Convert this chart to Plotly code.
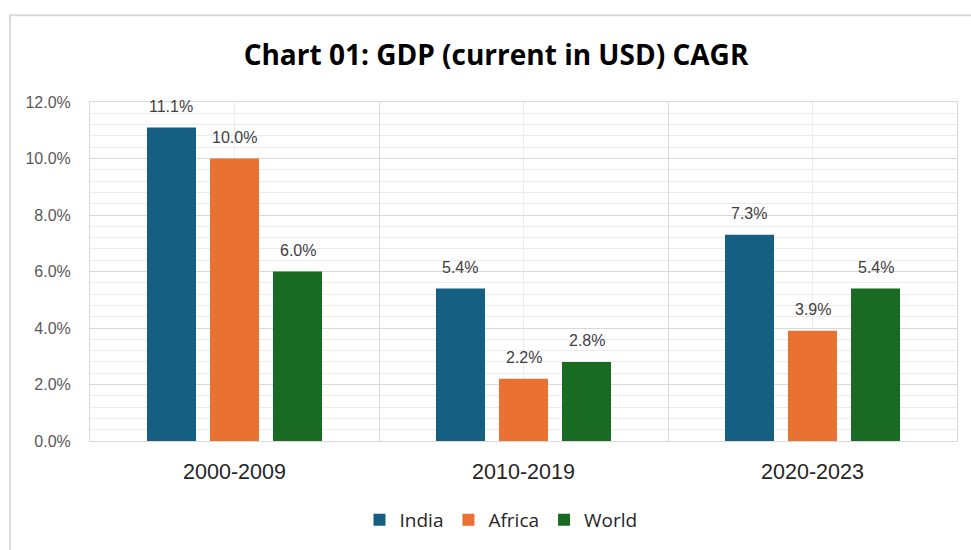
import plotly.graph_objects as go

periods = ["2000-2009", "2010-2019", "2020-2023"]
series_names = ["India", "Africa", "World"]
india = [11.1, 5.4, 7.3]
africa = [10.0, 2.2, 3.9]
world = [6.0, 2.8, 5.4]
colors = ["#156082", "#E97132", "#196B24"]
title_text = "Chart 01: GDP (current in USD) CAGR"

W, H = 971, 550
L, R, T, B = 90, 14, 102, 108
plot_w = W - L - R
plot_h = H - T - B

fig = go.Figure()
all_vals = [india, africa, world]
for name, vals, col in zip(series_names, all_vals, colors):
    fig.add_trace(go.Bar(x=periods, y=vals, name=name, marker=dict(color=col, line=dict(width=0))))

# data labels
slot_px = plot_w / len(periods) * (1 - 0.346) / 3
for i, vals in enumerate(all_vals):
    for p, v in zip(periods, vals):
        fig.add_annotation(x=p, y=v, text=f"{v:.1f}%", showarrow=False,
                           xshift=(i - 1) * slot_px, yshift=21, yanchor="middle",
                           font=dict(family="Liberation Sans", size=16, color="#404040"))

# center vertical gridlines
for p in periods:
    fig.add_shape(type="line", x0=p, x1=p, y0=0, y1=1, xref="x", yref="y domain",
                  line=dict(color="#ececec", width=1), layer="below")

def px2x(px):
    return (px - L) / plot_w

def py2y(py):
    return (H - B - py) / plot_h

# outer frame
fig.add_shape(type="rect", xref="paper", yref="paper",
              x0=px2x(10), x1=px2x(985), y0=py2y(15), y1=py2y(570),
              line=dict(color="#d9d9d9", width=2), fillcolor="rgba(0,0,0,0)")

fig.update_layout(
    width=W, height=H,
    margin=dict(l=L, r=R, t=T, b=B),
    paper_bgcolor="white", plot_bgcolor="white",
    barmode="group", bargap=0.346, bargroupgap=0.222,
    title=dict(text=f"<b>{title_text}</b>", x=496 / W, xanchor="center",
               y=1 - 55 / H, yanchor="middle",
               font=dict(family="Open Sans", size=28, color="#000000")),
    showlegend=True,
    legend=dict(orientation="h", x=px2x(501), xanchor="center", y=py2y(520), yanchor="middle",
                font=dict(family="Open Sans", size=19, color="#262626"), itemwidth=30,
                bgcolor="rgba(0,0,0,0)"),
    xaxis=dict(tickson="boundaries", showgrid=True, gridcolor="#d9d9d9", gridwidth=1,
               ticks="", ticklabelstandoff=11, showline=True, mirror=True, linecolor="#d9d9d9",
               tickfont=dict(family="Liberation Sans", size=21.5, color="#262626"),
               zeroline=False),
    yaxis=dict(range=[0, 12], dtick=2, showgrid=True, gridcolor="#d9d9d9",
               minor=dict(dtick=0.4, showgrid=True, gridcolor="#ececec"),
               ticksuffix="%", tickformat=".1f", ticks="", ticklabelstandoff=15,
               showline=True, mirror=True, linecolor="#d9d9d9", zeroline=False,
               tickfont=dict(family="Liberation Sans", size=16, color="#595959")),
)

fig.write_html("out.html")
